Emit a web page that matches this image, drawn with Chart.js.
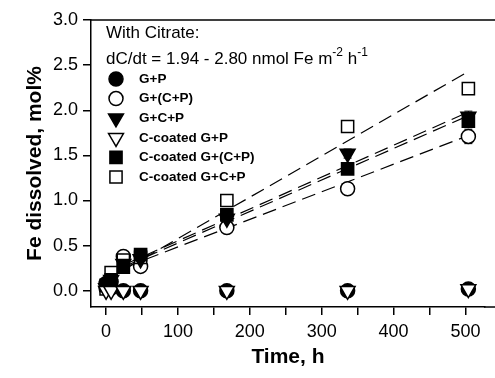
<!DOCTYPE html>
<html>
<head>
<meta charset="utf-8">
<script src="https://cdn.jsdelivr.net/npm/chart.js@4/dist/chart.umd.min.js"></script>
<style>
  body { margin: 0; background: #fff; }
  canvas { display: block; }
</style>
</head>
<body>
<canvas id="feChart" width="495" height="378"></canvas>
<script>
// sampling times, h
const times = [0, 7, 24, 48, 168, 336, 504];

// Fe dissolved, mol%
const gP = [0.08, 0.03, 0.0, 0.0, 0.0, 0.0, 0.02];
const gCPbr = [0.03, 0.10, 0.38, 0.27, 0.70, 1.13, 1.71];
const gCP = [0.03, 0.12, 0.30, 0.35, 0.80, 1.52, 1.93];
const cgP = [0.0, 0.0, 0.0, 0.0, 0.0, 0.0, 0.02];
const cgCPbr = [0.06, 0.12, 0.26, 0.40, 0.84, 1.35, 1.88];
const cgCP = [0.02, 0.20, 0.34, 0.37, 1.00, 1.82, 2.24];

// error bars (+/-)
const errGCPbr = [0, 0, 0, 0, 0.02, 0.03, 0.08];
const errGCP = [0, 0, 0, 0, 0, 0.05, 0.06];

// dashed linear fits, start/end
const fitT = [0, 504];
const fitGCPbr = [0.18, 1.72];
const fitGCP = [0.20, 1.98];
const fitCgCPbr = [0.18, 1.94];
const fitCgCP = [0.12, 2.43];

const xTicks = [0, 50, 100, 150, 200, 250, 300, 350, 400, 450, 500];
const yTicks = [0, 0.5, 1.0, 1.5, 2.0, 2.5, 3.0];

function pts(xs, ys) {
    return xs.map((x, i) => ({ x: x, y: ys[i] }));
}

function series(label, vals, style, filled, order, errs) {
    return {
        type: 'scatter',
        label: label,
        data: pts(times, vals),
        pointStyle: style,
        rotation: style === 'triangle' ? 180 : 0,
        pointRadius: style === 'circle' ? 7 : 8.6,
        pointBackgroundColor: filled ? '#000' : '#fff',
        pointBorderColor: '#000',
        pointBorderWidth: 1.5,
        order: order,
        errors: errs || null
    };
}

function fit(vals) {
    return {
        type: 'line',
        label: '',
        data: pts(fitT, vals),
        borderColor: '#000',
        borderWidth: 1.2,
        borderDash: [14, 7],
        pointRadius: 0,
        fill: false,
        order: 20,
        isFit: true
    };
}

const datasets = [
    series('G+P', gP, 'circle', true, 6),
    series('G+(C+P)', gCPbr, 'circle', false, 5, errGCPbr),
    series('G+C+P', gCP, 'triangle', true, 3, errGCP),
    series('C-coated G+P', cgP, 'triangle', false, 1),
    series('C-coated G+(C+P)', cgCPbr, 'rect', true, 2),
    series('C-coated G+C+P', cgCP, 'rect', false, 4),
    fit(fitGCPbr), fit(fitGCP), fit(fitCgCPbr), fit(fitCgCP)
];

// error bars behind the markers
const errorBars = {
    id: 'errorBars',
    beforeDatasetsDraw(chart) {
        const ctx = chart.ctx;
        const xs = chart.scales.x, ys = chart.scales.y;
        ctx.save();
        ctx.strokeStyle = '#000';
        ctx.lineWidth = 1;
        chart.data.datasets.forEach(ds => {
            if (!ds.errors) return;
            ds.data.forEach((p, i) => {
                const e = ds.errors[i];
                if (!e) return;
                const px = xs.getPixelForValue(p.x);
                const top = ys.getPixelForValue(p.y + e);
                const bot = ys.getPixelForValue(p.y - e);
                ctx.beginPath();
                ctx.moveTo(px, top); ctx.lineTo(px, bot);
                ctx.moveTo(px - 4, top); ctx.lineTo(px + 4, top);
                ctx.moveTo(px - 4, bot); ctx.lineTo(px + 4, bot);
                ctx.stroke();
            });
        });
        ctx.restore();
    }
};

// frame lines to the edge, annotation text and legend
const decorations = {
    id: 'decorations',
    afterDraw(chart) {
        const ctx = chart.ctx;
        const a = chart.chartArea;
        ctx.save();
        ctx.strokeStyle = '#000';
        ctx.lineWidth = 1.5;
        ctx.beginPath();
        ctx.moveTo(a.left, a.top);
        ctx.lineTo(chart.width, a.top);
        ctx.moveTo(a.right - 1, a.bottom);
        ctx.lineTo(chart.width, a.bottom);
        ctx.stroke();

        ctx.fillStyle = '#000';
        ctx.textBaseline = 'middle';
        ctx.textAlign = 'left';
        ctx.font = '17px Arial, "Liberation Sans"';
        ctx.fillText('With Citrate:', 106, 33);

        let x = 106;
        const y = 59;
        const parts = [
            ['dC/dt = 1.94 - 2.80 nmol Fe m', false],
            ['-2', true],
            [' h', false],
            ['-1', true]
        ];
        parts.forEach(([t, sup]) => {
            ctx.font = sup ? '12px Arial, "Liberation Sans"' : '17px Arial, "Liberation Sans"';
            ctx.fillText(t, x, sup ? y - 6 : y);
            x += ctx.measureText(t).width;
        });

        // legend
        const rows = chart.data.datasets.filter(d => !d.isFit);
        rows.forEach((ds, i) => {
            const ry = 79 + i * 19.6;
            ctx.fillStyle = ds.pointBackgroundColor;
            ctx.strokeStyle = '#000';
            ctx.lineWidth = 1.5;
            Chart.helpers.drawPoint(ctx, {
                pointStyle: ds.pointStyle,
                rotation: ds.rotation,
                radius: ds.pointStyle === 'circle' ? 7 : 8.6,
                borderWidth: 1.5
            }, 116, ry);
            ctx.fillStyle = '#000';
            ctx.font = 'bold 13.5px Arial, "Liberation Sans"';
            ctx.fillText(ds.label, 139, ry);
        });
        ctx.restore();
    }
};

const tickFont = { family: 'Arial, "Liberation Sans"', size: 18 };
const titleFont = { family: 'Arial, "Liberation Sans"', size: 21, weight: 'bold' };

new Chart(document.getElementById('feChart'), {
    data: { datasets: datasets },
    options: {
        responsive: false,
        animation: false,
        devicePixelRatio: 1,
        layout: { padding: { top: 20, right: 0, left: 0, bottom: 0 } },
        plugins: {
            legend: { display: false },
            tooltip: { enabled: false }
        },
        scales: {
            x: {
                type: 'linear',
                min: -21,
                max: 527,
                afterBuildTicks: s => { s.ticks = xTicks.map(v => ({ value: v })); },
                afterFit: s => { s.height = 71; },
                ticks: {
                    color: '#000',
                    font: tickFont,
                    padding: 6,
                    maxRotation: 0,
                    autoSkip: false,
                    callback: v => (v % 100 === 0 ? v : '')
                },
                grid: { drawOnChartArea: false, color: '#000', tickLength: 8, lineWidth: 1.5 },
                border: { color: '#000', width: 1.5 },
                title: { display: true, text: 'Time, h', color: '#000', font: titleFont, padding: { top: 0, bottom: 8 } }
            },
            y: {
                type: 'linear',
                min: -0.18,
                max: 3.0,
                afterBuildTicks: s => { s.ticks = yTicks.map(v => ({ value: v })); },
                afterFit: s => { s.width = 91; },
                ticks: {
                    color: '#000',
                    font: tickFont,
                    padding: 5,
                    callback: v => v.toFixed(1)
                },
                grid: { drawOnChartArea: false, color: '#000', tickLength: 8, lineWidth: 1.5 },
                border: { color: '#000', width: 1.5 },
                title: { display: true, text: 'Fe dissolved, mol%', color: '#000', font: titleFont, padding: { top: 23, bottom: 0 } }
            }
        }
    },
    plugins: [errorBars, decorations]
});
</script>
</body>
</html>
